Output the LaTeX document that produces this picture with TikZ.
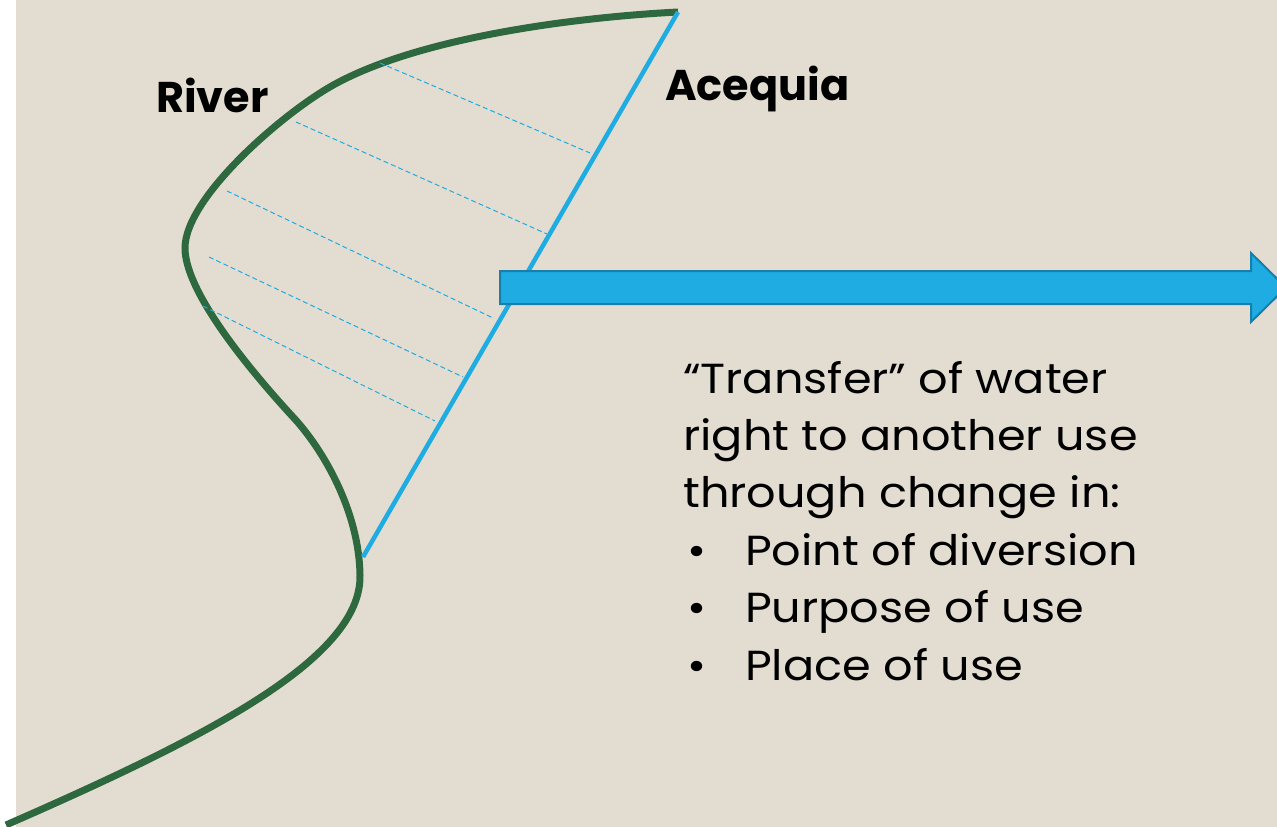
\documentclass[tikz,border=0pt]{standalone}
\usepackage{fontspec}
\setmainfont{Poppins}
\definecolor{paper}{RGB}{227,221,209}
\definecolor{riverGreen}{RGB}{46,104,62}
\definecolor{ditchBlue}{RGB}{30,172,226}
\definecolor{arrowEdge}{RGB}{24,126,170}
\begin{document}
\begin{tikzpicture}[x=1pt,y=-1pt,
  river/.style={draw=riverGreen, line width=7pt},
  ditch/.style={draw=ditchBlue, line width=4.5pt},
  lateral/.style={draw=ditchBlue, line width=1pt, dash pattern=on 5pt off 3pt},
  flow/.style={fill=ditchBlue, draw=arrowEdge, line width=2pt, line join=miter},
  label/.style={anchor=base west, inner sep=0pt, font=\fontsize{43}{50}\selectfont\bfseries},
  body/.style={anchor=base west, inner sep=0pt,
    font=\fontsize{42}{50}\selectfont\addfontfeature{FakeStretch=1.1}}]
\useasboundingbox (0,0) rectangle (1277,827);
\clip (0,0) rectangle (1277,827);
\fill[white] (0,0) rectangle (1277,827);
\fill[paper] (16,0) rectangle (1277,827);

% the river, meandering up from the lower left
\coordinate (mouth) at (6,825);
\coordinate (bendE) at (360,575);
\coordinate (turn) at (293,417);
\coordinate (bendW) at (185,248);
\coordinate (upper) at (337,83);
\coordinate (headgate) at (678,12);
\draw[river] (mouth)
  .. controls (200,740) and (362,660) .. (bendE)
  .. controls (359,510) and (322,448) .. (turn)
  .. controls (259,380) and (185,295) .. (bendW)
  .. controls (185,197) and (286,110) .. (upper)
  .. controls (425,36) and (580,17) .. (headgate);

% the acequia leaving the river
\coordinate (tail) at (363,557);
\draw[ditch] (headgate) -- (tail);

% laterals from the river side to the acequia
\coordinate (r1) at (380,63);  \coordinate (a1) at (590,153);
\coordinate (r2) at (296,122); \coordinate (a2) at (547,234);
\coordinate (r3) at (227,191); \coordinate (a3) at (493,318);
\coordinate (r4) at (209,257); \coordinate (a4) at (463,377);
\coordinate (r5) at (203,306); \coordinate (a5) at (435,421);
\foreach \i in {1,...,5} \draw[lateral] (r\i) -- (a\i);

% the transfer arrow
\draw[flow] (500,271) -- (1251,271) -- (1251,253) -- (1286,287.5)
  -- (1251,322) -- (1251,304) -- (500,304) -- cycle;

% labels
\node[label] (riverlbl) at (156,112) {River};
\node[label] (acequialbl) at (665,100) {Acequia};

\node[body] (l1) at (683,393) {“Transfer” of water};
\node[body] (l2) at (683,450) {right to another use};
\node[body] (l3) at (683,507) {through change in:};
\node[body] (l4) at (683,565) {\hspace*{4pt}\makebox[58pt][l]{•}Point of diversion};
\node[body] (l5) at (683,622) {\hspace*{4pt}\makebox[58pt][l]{•}Purpose of use};
\node[body] (l6) at (683,680) {\hspace*{4pt}\makebox[58pt][l]{•}Place of use};
\end{tikzpicture}
\end{document}
